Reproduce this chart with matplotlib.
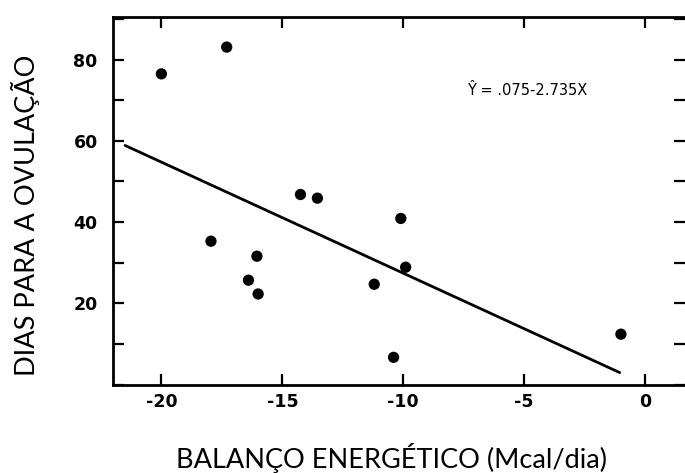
import numpy as np
import matplotlib
matplotlib.use('Agg')
import matplotlib.pyplot as plt
from matplotlib.ticker import MultipleLocator

# energy balance (Mcal/day) vs days to ovulation
balance = [-20.0, -17.3, -17.95, -16.05, -16.4, -16.0, -14.25, -13.55,
           -10.1, -9.9, -11.2, -10.4, -1.0]
days = [76.5, 83.1, 35.3, 31.6, 25.7, 22.3, 46.8, 45.9,
        40.9, 28.9, 24.7, 6.7, 12.4]

# regression printed on the chart: Y = .075 - 2.735X
fit_a = 0.075
fit_b = -2.735
fit_span = [-21.5, -1.05]

x_ticks = [-20, -15, -10, -5, 0]
y_ticks = [20, 40, 60, 80]

plt.rcParams['axes.unicode_minus'] = False

fig = plt.figure(figsize=(6.85, 4.73), dpi=100)
ax = fig.add_axes([0.165, 0.187, 0.835, 0.777])

fx = np.array(fit_span)
ax.plot(fx, fit_a + fit_b * fx, color='black', lw=2.0, solid_capstyle='round')
ax.scatter(balance, days, s=66, color='black', edgecolors='none', zorder=3)

ax.text(-7.35, 72.5, 'Ŷ = .075-2.735X', fontsize=10.5, va='center', ha='left')

ax.set_xlim(-22, 1.65)
ax.set_ylim(0, 90.5)
ax.set_xticks(x_ticks)
ax.set_xticklabels([str(t) for t in x_ticks])
ax.set_yticks(y_ticks)
ax.yaxis.set_minor_locator(MultipleLocator(10))

for side in ['left', 'bottom', 'top']:
    ax.spines[side].set_linewidth(2.0)
ax.spines['right'].set_visible(False)

ax.tick_params(axis='both', which='both', direction='in', width=1.6,
               top=True, right=True)
ax.tick_params(axis='both', which='major', length=8, labelsize=12.5)
ax.tick_params(axis='y', which='minor', length=8)
ax.tick_params(axis='x', pad=6)
ax.tick_params(axis='y', pad=11)
for lbl in ax.get_xticklabels() + ax.get_yticklabels():
    lbl.set_fontweight('bold')

ax.set_xlabel('BALANÇO ENERGÉTICO (Mcal/dia)', fontsize=19.5, family='Lato')
ax.set_ylabel('DIAS PARA A OVULAÇÃO', fontsize=19.5, family='Lato')
ax.xaxis.set_label_coords(0.486, -0.16)
ax.yaxis.set_label_coords(-0.128, 0.46)

fig.savefig('out.png', dpi=100)
